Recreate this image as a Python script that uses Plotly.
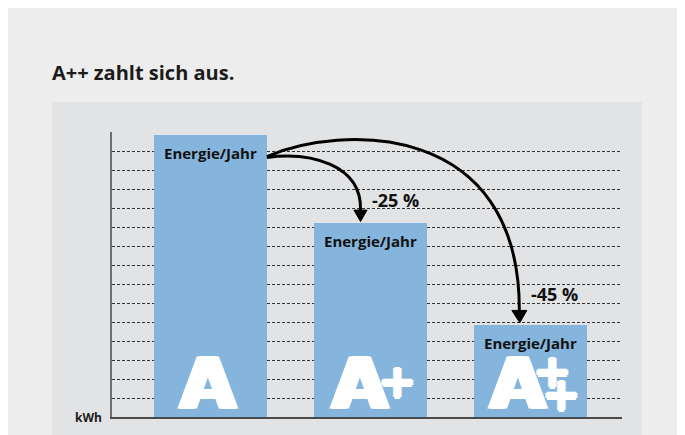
import plotly.graph_objects as go

# ---- data ----
categories = ["A", "A+", "A++"]
energy_kwh = [14.85, 10.2, 4.85]
bar_labels = ["Energie/Jahr", "Energie/Jahr", "Energie/Jahr"]
savings_labels = ["-25 %", "-45 %"]
title_text = "A++ zahlt sich aus."
unit_label = "kWh"

# ---- geometry / style ----
W, H = 685, 435
OFF = 8  # page margin of the browser
L, R, T, B = 104, 71, 124, 26
PW, PH = W - L - R, H - T - B
BAR_W = 0.706
X_RANGE = [-0.6156, 2.573]
Y_RANGE = [0, 15]
BAR_COLOR = "#85B5DD"
TXT_FONT = "Open Sans"
BIG_FONT = "DejaVu Sans"
WIDEN_A = "3px 0 0 white, -3px 0 0 white, 1.5px 0 0 white, -1.5px 0 0 white"
WIDEN_P = ("1.5px 0 0 white, -1.5px 0 0 white, 0 1.5px 0 white, 0 -1.5px 0 white")

x_pos = list(range(len(categories)))


def px_x(px):
    return (px - OFF - L) / PW


def px_y(py):
    return (H - B - (py - OFF)) / PH


fig = go.Figure(
    go.Bar(
        x=x_pos,
        y=energy_kwh,
        width=BAR_W,
        marker=dict(color=BAR_COLOR, line_width=0),
        hoverinfo="skip",
    )
)

fig.update_layout(
    width=W,
    height=H,
    margin=dict(l=L, r=R, t=T, b=B, pad=0),
    paper_bgcolor="#EDEDED",
    plot_bgcolor="#E2E3E5",
    showlegend=False,
    bargap=0,
)
fig.update_xaxes(
    range=X_RANGE, showgrid=False, zeroline=False, showticklabels=False,
    ticks="", showline=True, linecolor="#4a4a4a", linewidth=1.5,
)
fig.update_yaxes(
    range=Y_RANGE, dtick=1, showgrid=True, gridcolor="#333333",
    griddash="3px,2px", gridwidth=1, zeroline=False, showticklabels=False,
    ticks="", showline=True, linecolor="#6e6e6e", linewidth=1.5,
)

shapes = []
# inner panel
shapes.append(dict(type="rect", xref="paper", yref="paper", layer="below",
                   x0=px_x(52), x1=px_x(642), y0=px_y(460), y1=px_y(102),
                   fillcolor="#E2E3E5", line_width=0))

# arrows (anchored on bars)
x0 = x_pos[0] + BAR_W / 2
a1 = [(x0, 13.66), (0.622, 13.97), (0.947, 13.29), (0.938, energy_kwh[1] + 0.69)]
tip1 = (0.938, energy_kwh[1] + 0.09)
a2 = [(x0, 13.71), (0.809, 15.39), (1.934, 15.66), (1.931, energy_kwh[2] + 0.76)]
tip2 = (1.934, energy_kwh[2] + 0.11)


def curve(p):
    return "M {},{} C {},{} {},{} {},{}".format(*[c for pt in p for c in pt])


for pts, tip, hw in [(a1, tip1, 0.041), (a2, tip2, 0.047)]:
    shapes.append(dict(type="path", xref="x", yref="y", path=curve(pts),
                       line=dict(color="black", width=3)))
    bx, by = pts[-1]
    shapes.append(dict(type="path", xref="x", yref="y",
                       path=f"M {bx-hw},{by} L {bx+hw},{by} L {tip[0]},{tip[1]} Z",
                       fillcolor="black", line=dict(color="black", width=1)))

fig.update_layout(shapes=shapes)

ann = []
ann.append(dict(xref="paper", yref="paper", x=px_x(50), y=px_y(72),
                xanchor="left", yanchor="middle", text=title_text, showarrow=False,
                font=dict(family=TXT_FONT, size=20, color="#1b1b1b", weight="bold")))
ann.append(dict(xref="paper", yref="y", x=0, y=0, xanchor="right", yanchor="middle",
                xshift=-8, text=unit_label, showarrow=False,
                font=dict(family=TXT_FONT, size=12, color="#1b1b1b", weight="bold")))
for i, (lab, v) in enumerate(zip(bar_labels, energy_kwh)):
    ann.append(dict(x=x_pos[i], y=v, xanchor="center", yanchor="top", yshift=-6,
                    text=lab, showarrow=False,
                    font=dict(family=TXT_FONT, size=15, color="#111111", weight="bold")))

# savings labels
ann.append(dict(x=1.154, y=11.41, text=savings_labels[0], showarrow=False,
                font=dict(family=TXT_FONT, size=18, color="#111111", weight="bold")))
ann.append(dict(x=2.15, y=6.45, text=savings_labels[1], showarrow=False,
                font=dict(family=TXT_FONT, size=18, color="#111111", weight="bold")))

# big class letters
big = dict(family=BIG_FONT, size=72, color="white", weight="bold", shadow=WIDEN_A)
plus = dict(family=BIG_FONT, size=46, color="white", weight="bold", shadow=WIDEN_P)
a_shift = [-2, -10, -12]
for i in x_pos:
    ann.append(dict(x=x_pos[i], y=0, xanchor="center", yanchor="bottom",
                    xshift=a_shift[i], yshift=-10, text="A", showarrow=False, font=big))
ann.append(dict(x=x_pos[1], y=1.89, xanchor="center", yanchor="middle",
                xshift=27, text="+", showarrow=False, font=plus))
ann.append(dict(x=x_pos[2], y=2.4, xanchor="center", yanchor="middle",
                xshift=22, text="+", showarrow=False, font=plus))
ann.append(dict(x=x_pos[2], y=1.2, xanchor="center", yanchor="middle",
                xshift=31, text="+", showarrow=False, font=plus))
fig.update_layout(annotations=ann)

fig.write_html("out.html")
